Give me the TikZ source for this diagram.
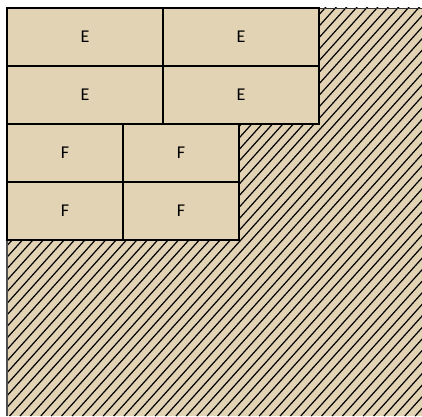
\documentclass[tikz,border=0pt]{standalone}
\usepackage{fontspec}
\setmainfont{Carlito}
\usetikzlibrary{positioning}
\definecolor{walltan}{RGB}{227,211,181}
\definecolor{wallgray}{RGB}{80,80,80}

\begin{document}
\begin{tikzpicture}[
  x=1pt, y=1pt,
  node distance=0pt and 0pt,
  tile/.style={draw=black, fill=walltan, line width=1.1pt,
               inner sep=0pt, outer sep=0pt, minimum height=58pt,
               font=\fontsize{18}{21}\selectfont},
  widetile/.style={tile, minimum width=156pt},
  narrowtile/.style={tile, minimum width=116pt},
  hatch/.style={black, line width=1.2pt}
]
\useasboundingbox (0,0) rectangle (422,416);
% hatched ground, cut off at the right and bottom
\begin{scope}
  \clip (7,0) rectangle (422,408);
  \fill[walltan] (7,0) rectangle (422,408);
  \foreach \i in {0,...,120}
    \draw[hatch] (-500+\i*10.4,0) -- ++(48:800);
\end{scope}
\draw[wallgray, line width=1.4pt] (7,0) -- (7,408);
\draw[black!80, line width=0.8pt] (7,408) -- (422,408);
% tiles
\node[widetile, anchor=north west] (e1) at (7,408) {E};
\node[widetile, right=of e1] (e2) {E};
\node[widetile, below=of e1] (e3) {E};
\node[widetile, right=of e3] (e4) {E};
\node[narrowtile, anchor=north west] (f1) at (e3.south west) {F};
\node[narrowtile, right=of f1] (f2) {F};
\node[narrowtile, below=of f1] (f3) {F};
\node[narrowtile, right=of f3] (f4) {F};
\end{tikzpicture}
\end{document}
